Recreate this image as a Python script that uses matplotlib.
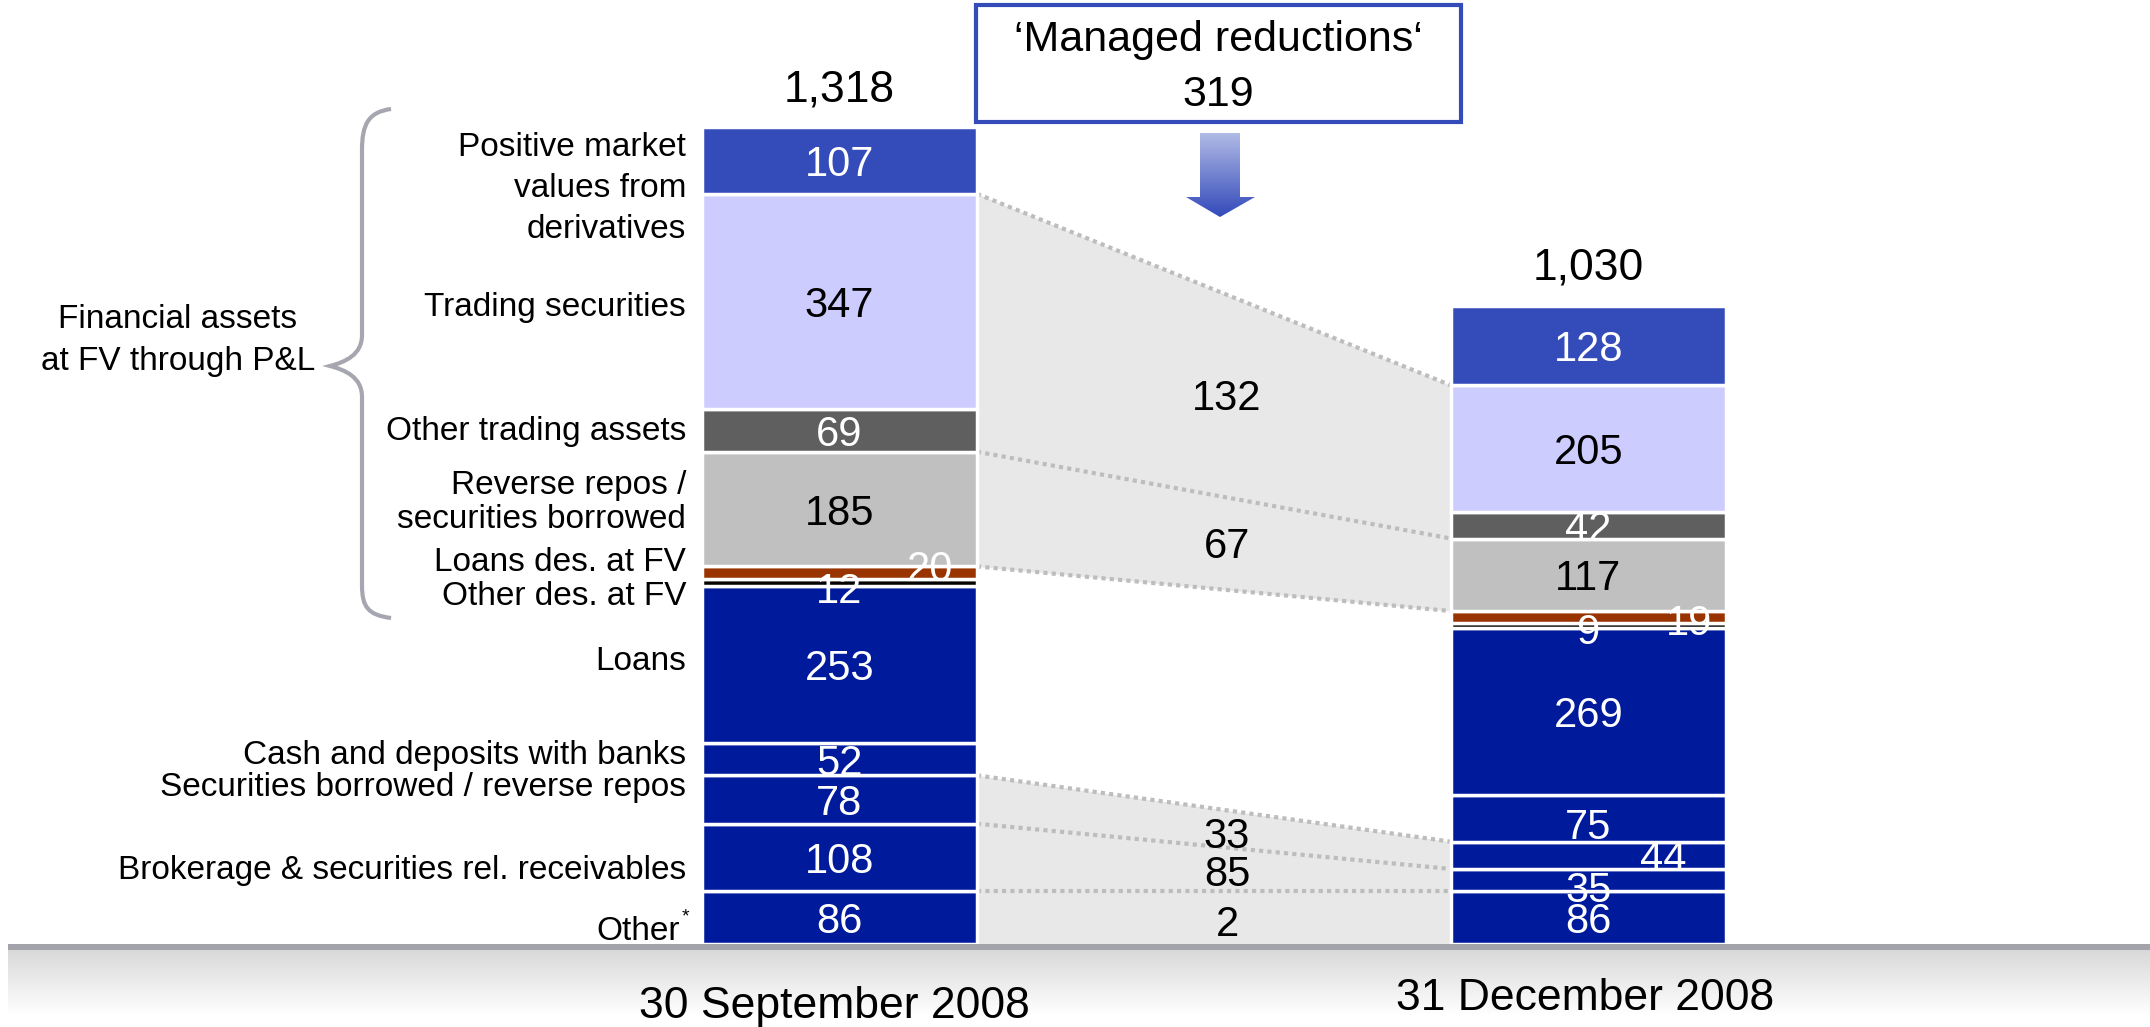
import numpy as np
import matplotlib
matplotlib.use("Agg")
from matplotlib import pyplot as plt
from matplotlib.patches import Rectangle, Polygon, PathPatch
from matplotlib.path import Path

plt.rcParams['font.family'] = ['Liberation Sans', 'DejaVu Sans']

# data (stacked bottom -> top)
segments = ['Other', 'Brokerage & securities rel. receivables',
            'Securities borrowed / reverse repos', 'Cash and deposits with banks',
            'Loans', 'Other des. at FV', 'Loans des. at FV',
            'Reverse repos / securities borrowed', 'Other trading assets',
            'Trading securities', 'Positive market values from derivatives']
sep_2008 = [86, 108, 78, 52, 253, 12, 20, 185, 69, 347, 107]
dec_2008 = [86, 35, 44, 75, 269, 9, 19, 117, 42, 205, 128]
totals = ['1,318', '1,030']
dates = ['30 September 2008', '31 December 2008']
reductions = ['132', '67', '33', '85', '2']
managed_total = '319'

seg_colors = ['#001A9C'] * 5 + ['#000000', '#993300', '#C0C0C0', '#5F5F5F',
                                '#CCCCFF', '#344BBA']
txt_colors = ['white'] * 7 + ['black', 'white', 'black', 'white']

# layout: figure is drawn in pixel x and value y
W, H = 2150, 1027
BASE = 944          # pixel row of the baseline
PX = 0.62           # pixels per unit


def vy(py):
    return (BASE - py) / PX


fig = plt.figure(figsize=(W / 100, H / 100), dpi=100)
ax = fig.add_axes([0, 0, 1, 1])
ax.set_xlim(0, W)
ax.set_ylim(vy(H), vy(0))
ax.axis('off')

xs = [839.5, 1588.5]
bw = 275
x_gap = (xs[0] + bw / 2, xs[1] - bw / 2)

# cum[k] = top of segment k-1
cum_s = np.concatenate([[0], np.cumsum(sep_2008)])
cum_d = np.concatenate([[0], np.cumsum(dec_2008)])

# grey connector areas
ax.fill_between(x_gap, [cum_s[10], cum_d[10]], [cum_s[7], cum_d[7]],
                color='#E8E8E8', lw=0, zorder=1)
ax.fill_between(x_gap, [cum_s[3], cum_d[3]], [0, 0],
                color='#E8E8E8', lw=0, zorder=1)
for k in [10, 8, 7, 3, 2, 1]:
    ax.plot(x_gap, [cum_s[k], cum_d[k]], color='#BDBDBD', lw=3,
            ls=(0, (1, 1)), zorder=2)

# bars
for x, vals, cum in [(xs[0], sep_2008, cum_s), (xs[1], dec_2008, cum_d)]:
    ax.bar([x] * len(vals), vals, bottom=cum[:-1], width=bw, color=seg_colors,
           edgecolor='white', linewidth=2.5, zorder=3)

# value labels (offsets in pixels for the small segments)
off_s = {5: (0, 5), 6: (91, -7)}
off_d = {2: (75, 0), 1: (0, 7), 3: (0, 5), 5: (0, 3), 6: (101, 3)}
for x, vals, cum, off in [(xs[0], sep_2008, cum_s, off_s),
                          (xs[1], dec_2008, cum_d, off_d)]:
    for i, v in enumerate(vals):
        dx, dy = off.get(i, (0, 0))
        yc = (cum[i] + cum[i + 1]) / 2 - dy / PX
        ax.text(x + dx, yc, str(v), ha='center', va='center_baseline',
                fontsize=30, color=txt_colors[i], zorder=5)

for x, cum, t in zip(xs, [cum_s, cum_d], totals):
    ax.text(x, cum[-1] + 68, t, ha='center', va='center_baseline', fontsize=32)

# reduction numbers in the gap
gap_y = [395, 542, 832, 871, 921]
for t, py in zip(reductions, gap_y):
    ax.text(1227, vy(py), t, ha='center', va='center_baseline', fontsize=30,
            zorder=4)

# category labels
cat_lines = [('Positive market', 144), ('values from', 185), ('derivatives', 226),
             ('Trading securities', 304), ('Other trading assets', 428),
             ('Reverse repos /', 482), ('securities borrowed', 516),
             ('Loans des. at FV', 559), ('Other des. at FV', 593),
             ('Loans', 658), ('Cash and deposits with banks', 752),
             ('Securities borrowed / reverse repos', 784),
             ('Brokerage & securities rel. receivables', 867), ('Other', 928)]
for t, py in cat_lines:
    xr = 680 if t == 'Other' else 686
    ax.text(xr, vy(py), t, ha='right', va='center_baseline', fontsize=24)
ax.text(682, vy(915), '*', ha='left', va='center_baseline', fontsize=14)

ax.text(178, vy(316), 'Financial assets', ha='center', va='center_baseline',
        fontsize=24)
ax.text(178, vy(358), 'at FV through P&L', ha='center', va='center_baseline',
        fontsize=24)

# curly brace
bx, tip = 362, 330
pts = [(391, 109), (368, 112), (bx, 125), (bx, 150),
       (bx, 335), (bx, 355), (345, 362), (tip, 366),
       (345, 370), (bx, 377), (bx, 397),
       (bx, 585), (bx, 607), (368, 615), (391, 618)]
codes = [Path.MOVETO, Path.CURVE4, Path.CURVE4, Path.CURVE4,
         Path.LINETO, Path.CURVE4, Path.CURVE4, Path.CURVE4,
         Path.CURVE4, Path.CURVE4, Path.CURVE4,
         Path.LINETO, Path.CURVE4, Path.CURVE4, Path.CURVE4]
brace = Path([(px, vy(py)) for px, py in pts], codes)
ax.add_patch(PathPatch(brace, fc='none', ec='#A6A6B0', lw=3, zorder=2))

# managed reductions box
ax.add_patch(Rectangle((976, vy(122)), 1461 - 976, (122 - 5) / PX, fc='white',
                       ec='#344BBA', lw=3, zorder=4))
ax.text(1218, vy(36), '\u2018Managed reductions\u2018', ha='center',
        va='center_baseline', fontsize=31, zorder=5)
ax.text(1218, vy(90), managed_total, ha='center', va='center_baseline',
        fontsize=31, zorder=5)

# gradient arrow
arrow_px = [(1200, 133), (1240, 133), (1240, 197), (1255, 197), (1220, 217),
            (1186, 197), (1200, 197)]
arrow = Polygon([(px, vy(py)) for px, py in arrow_px], closed=True,
                fc='none', ec='none')
ax.add_patch(arrow)
grad = np.linspace(0, 1, 100).reshape(-1, 1)
c0 = np.array([0.69, 0.73, 0.90])
c1 = np.array([0.20, 0.29, 0.73])
img = c0 + (c1 - c0) * grad[..., None]
im = ax.imshow(img, extent=(1186, 1255, vy(217), vy(133)), aspect='auto',
               origin='upper', zorder=4)
im.set_clip_path(arrow)

# baseline band and shading underneath
ax.add_patch(Rectangle((8, vy(950)), W, 6 / PX, fc='#A3A3AB', ec='none',
                       zorder=6))
shade = np.linspace(0, 1, 100).reshape(-1, 1)
g = 0.85 + 0.15 * shade
ax.imshow(np.dstack([g, g, g]), extent=(8, W, vy(1015), vy(950)),
          aspect='auto', origin='upper', zorder=0)
ax.set_xlim(0, W)
ax.set_ylim(vy(H), vy(0))

ax.text(834, vy(1002), dates[0], ha='center', va='center_baseline', fontsize=32)
ax.text(1585, vy(994), dates[1], ha='center', va='center_baseline', fontsize=32)

fig.savefig('out.png', dpi=100)
